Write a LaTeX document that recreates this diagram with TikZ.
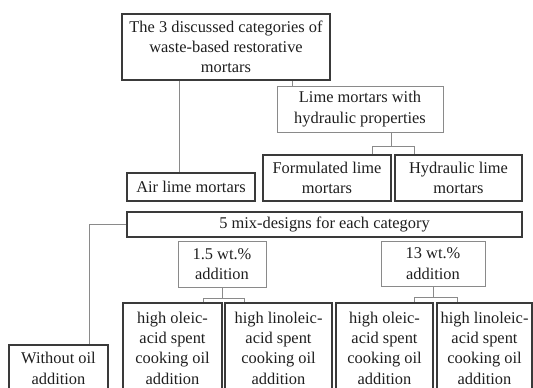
\documentclass[tikz,border=0pt]{standalone}
\usepackage{fontspec}
\setmainfont{Liberation Serif}
\usepackage{tikz}
\definecolor{boxline}{HTML}{3A3A3A}
\definecolor{thinline}{HTML}{8A8A8A}
\definecolor{txt}{HTML}{1E1E1E}

\begin{document}
\begin{tikzpicture}[x=0.75pt,y=-0.75pt,
  every node/.style={align=center,inner sep=0pt,text=txt,font=\fontsize{12.3pt}{15.2pt}\selectfont},
  box/.style={draw=boxline,line width=1.2pt},
  light box/.style={draw=thinline,line width=0.6pt},
  link/.style={draw=thinline,line width=0.6pt}]
\useasboundingbox (0,0) rectangle (533,387);
\clip (0,0) rectangle (533,387);
% categories
\node[box,minimum width=156pt,minimum height=49.5pt] (cat) at (226,47) {The 3 discussed categories of\\waste-based restorative\\mortars};
\node[light box,minimum width=124.5pt,minimum height=34.5pt] (hyd) at (360,109) {Lime mortars with\\hydraulic properties};
\node[box,minimum width=96pt,minimum height=21pt] (air) at (191,187) {Air lime mortars};
\node[box,minimum width=96pt,minimum height=34.5pt] (form) at (327,178) {Formulated lime\\mortars};
\node[box,minimum width=95.25pt,minimum height=34.5pt] (hlime) at (458.5,178) {Hydraulic lime\\mortars};
% mix-designs
\node[box,minimum width=296.25pt,minimum height=18.75pt] (mix) at (324.5,224.5) {5 mix-designs for each category};
\node[light box,minimum width=66pt,minimum height=34.5pt] (low) at (222,264) {1.5 wt.\%\\addition};
\node[light box,minimum width=78pt,minimum height=33.75pt] (high) at (433,263.5) {13 wt.\%\\addition};
\node[box,minimum width=74.25pt,minimum height=35.25pt] (wo) at (58.5,368.5) {Without oil\\addition};
\node[box,minimum width=74.25pt,minimum height=67.5pt] (o1) at (172.5,348) {high oleic-\\acid spent\\cooking oil\\addition};
\node[box,minimum width=80.25pt,minimum height=67.5pt] (l1) at (278.5,348) {high linoleic-\\acid spent\\cooking oil\\addition};
\node[box,minimum width=72.75pt,minimum height=67.5pt] (o2) at (384.5,348) {high oleic-\\acid spent\\cooking oil\\addition};
\node[box,minimum width=71.25pt,minimum height=67.5pt] (l2) at (484.5,348) {high linoleic-\\acid spent\\cooking oil\\addition};
% connectors
\coordinate (c1) at ([xshift=-35.25pt]cat.south);
\coordinate (c2) at ([xshift=49.5pt]cat.south);
\draw[link] (c1) -- (c1 |- air.north);
\draw[link] (c2) -- (c2 |- hyd.north);
\coordinate (h1) at ([xshift=23.25pt]hyd.south);
\draw[link] (h1) -- ++(0,14) coordinate (h2);
\draw[link] ([xshift=33.75pt]form.north) |- (h2) -| ([xshift=-33.375pt]hlime.north);
\draw[link] (mix.west) -| ([xshift=22.875pt]wo.north);
\draw[link] (low.south) -- ++(0,11) coordinate (d1);
\draw[link] ([xshift=22.875pt]o1.north) |- (d1) -| ([xshift=-25.875pt]l1.north);
\draw[link] (high.south) -- ++(0,11) coordinate (d2);
\draw[link] ([xshift=22.125pt]o2.north) |- (d2) -| ([xshift=-20.625pt]l2.north);
\end{tikzpicture}
\end{document}
